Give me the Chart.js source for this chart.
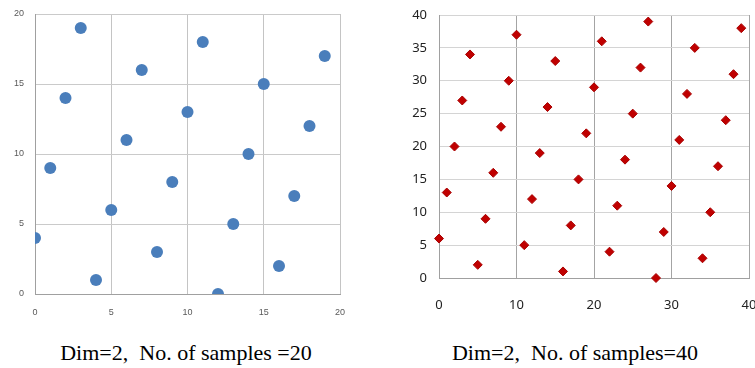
<!DOCTYPE html>
<html>
<head>
<meta charset="utf-8">
<script src="https://cdn.jsdelivr.net/npm/chart.js@4"></script>
<style>
  body { margin: 0; background: #fff; width: 755px; height: 368px; overflow: hidden; position: relative; }
  .box { position: absolute; top: 0; height: 330px; }
  .cap { position: absolute; top: 340px; font-family: "Liberation Serif", serif; font-size: 22px; color: #000; white-space: nowrap; transform: translateX(-50%); }
</style>
</head>
<body>
<div class="box" style="left:0;width:360px"><canvas id="chartA"></canvas></div>
<div class="box" style="left:380px;width:375px"><canvas id="chartB"></canvas></div>
<div class="cap" style="left:186px">Dim=2,&nbsp; No. of samples =20</div>
<div class="cap" style="left:575px">Dim=2,&nbsp; No. of samples=40</div>
<script>
// 20 samples
const xs20 = [0, 1, 2, 3, 4, 5, 6, 7, 8, 9, 10, 11, 12, 13, 14, 15, 16, 17, 18, 19];
const ys20 = [4, 9, 14, 19, 1, 6, 11, 16, 3, 8, 13, 18, 0, 5, 10, 15, 2, 7, 12, 17];

// 40 samples
const xs40 = [0, 1, 2, 3, 4, 5, 6, 7, 8, 9, 10, 11, 12, 13, 14, 15, 16, 17, 18, 19,
              20, 21, 22, 23, 24, 25, 26, 27, 28, 29, 30, 31, 32, 33, 34, 35, 36, 37, 38, 39];
const ys40 = [6, 13, 20, 27, 34, 2, 9, 16, 23, 30, 37, 5, 12, 19, 26, 33, 1, 8, 15, 22,
              29, 36, 4, 11, 18, 25, 32, 39, 0, 7, 14, 21, 28, 35, 3, 10, 17, 24, 31, 38];

function makeChart(id, xs, ys, opts) {
    const points = xs.map((x, i) => ({ x: x, y: ys[i] }));
    return new Chart(document.getElementById(id), {
        type: 'scatter',
        data: {
            datasets: [{
                data: points,
                pointStyle: opts.pointStyle,
                pointRadius: opts.radius,
                pointBorderWidth: opts.borderWidth,
                backgroundColor: opts.color,
                borderColor: opts.border,
                clip: opts.clip
            }]
        },
        options: {
            responsive: true,
            maintainAspectRatio: false,
            animation: false,
            events: [],
            layout: { autoPadding: false, padding: opts.padding },
            plugins: { legend: { display: false }, tooltip: { enabled: false } },
            scales: {
                x: {
                    type: 'linear', min: 0, max: opts.max,
                    ticks: { stepSize: opts.xStep, padding: opts.xPad, color: opts.tickColor, font: opts.font, maxRotation: 0 },
                    grid: { color: opts.vGrid, drawTicks: false },
                    border: { color: opts.axisColor },
                    // fixed plot box, no extra room for edge labels
                    afterFit: s => { s.height = opts.xHeight; s.paddingLeft = 0; s.paddingRight = 0; }
                },
                y: {
                    type: 'linear', min: 0, max: opts.max,
                    ticks: { stepSize: 5, padding: opts.yPad, color: opts.tickColor, font: opts.font },
                    grid: { color: opts.hGrid, drawTicks: false },
                    border: { color: opts.axisColor },
                    afterFit: s => { s.width = opts.yWidth; s.paddingTop = 0; s.paddingBottom = 0; }
                }
            }
        }
    });
}

makeChart('chartA', xs20, ys20, {
    max: 20, xStep: 5,
    pointStyle: 'circle', radius: 6, borderWidth: 0,
    color: '#4a7ebb', border: '#4a7ebb', clip: 0,
    padding: { top: 14, right: 20, left: 0, bottom: 0 },
    xHeight: 36, yWidth: 35, xPad: 13, yPad: 11,
    tickColor: '#595959',
    font: { family: '"Liberation Sans Narrow", "Liberation Sans", sans-serif', size: 9 },
    vGrid: '#c4c4c4', hGrid: '#cacaca', axisColor: '#a0a0a0'
});

makeChart('chartB', xs40, ys40, {
    max: 40, xStep: 10,
    pointStyle: 'rectRot', radius: 4.5, borderWidth: 1,
    color: '#c00000', border: '#a80000', clip: false,
    padding: { top: 15, right: 6, left: 0, bottom: 0 },
    xHeight: 52, yWidth: 59, xPad: 19, yPad: 12,
    tickColor: '#222',
    font: { family: '"Noto Sans", sans-serif', size: 13 },
    vGrid: '#a4a4a4', hGrid: '#d4d4d4', axisColor: '#a0a0a0'
});
</script>
</body>
</html>
